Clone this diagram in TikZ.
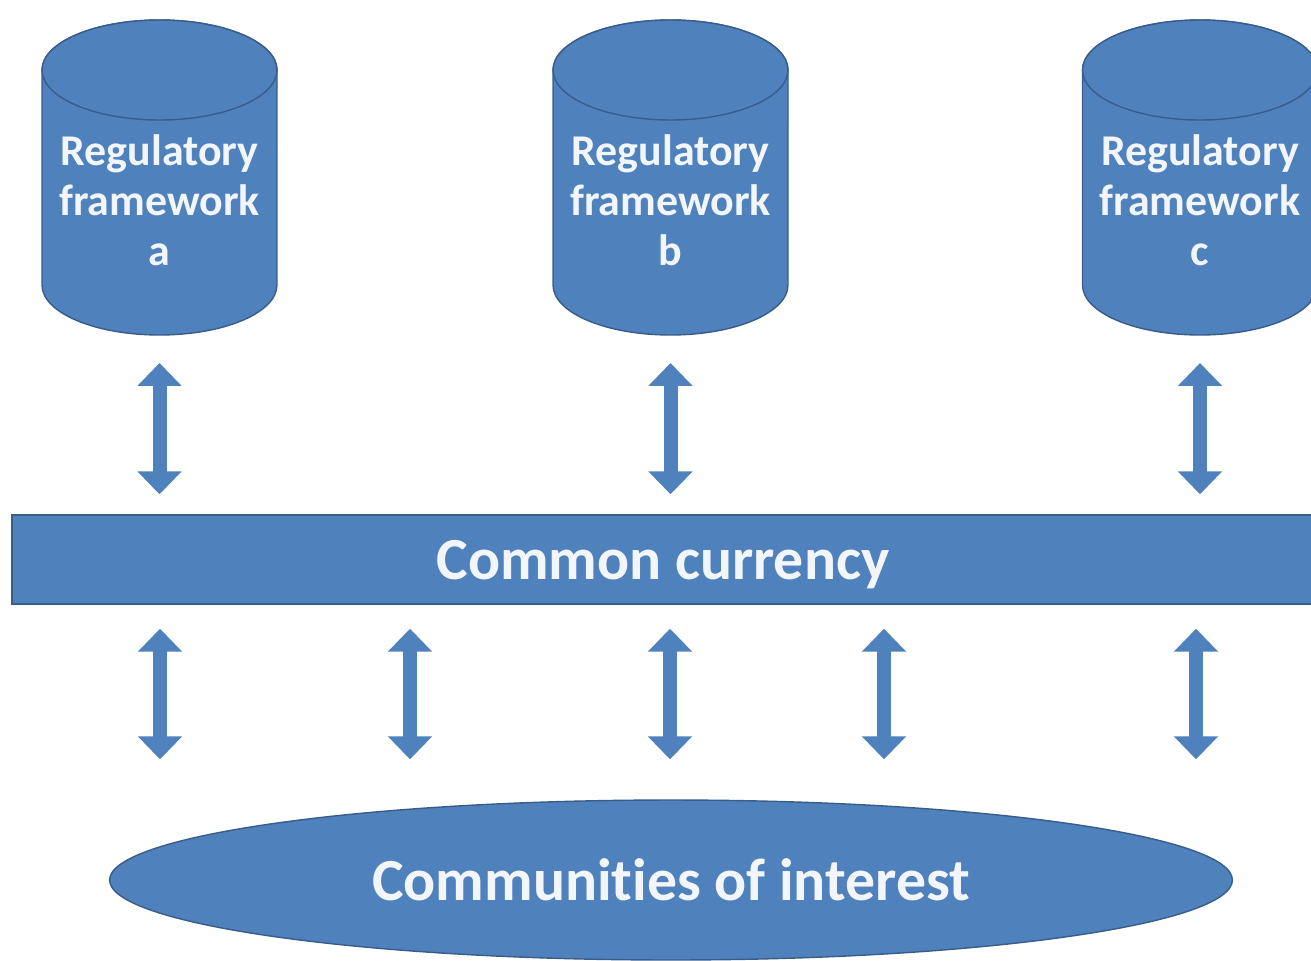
\documentclass[tikz,border=0pt]{standalone}
\usepackage{fontspec}
\setmainfont{Carlito}[Ligatures=NoCommon]
\usepackage{tikz}
\usetikzlibrary{arrows.meta,shapes.geometric}

\definecolor{boxblue}{RGB}{79,129,189}
\definecolor{edgeblue}{RGB}{56,93,138}
\definecolor{txtwhite}{RGB}{242,246,250}

% one storage cylinder: name, centre x, letter
\newcommand{\regcyl}[3]{%
	\filldraw[shapebox] (#2-117.5,70) -- (#2-117.5,285) arc[start angle=180,end angle=360,x radius=2.35cm,y radius=1cm] -- (#2+117.5,70) arc[start angle=0,end angle=180,x radius=2.35cm,y radius=1cm] -- cycle;
	\draw[shapebox] (#2,70) ellipse[x radius=2.35cm,y radius=1cm];
	\node[cyltext] (#1) at (#2,200) {Regulatory\\framework\\#3};
	\coordinate (#1-b) at (#2,335);
}

\begin{document}
\begin{tikzpicture}[x=0.02cm,y=-0.02cm,
		shapebox/.style={fill=boxblue,draw=edgeblue,line width=0.8pt},
		cyltext/.style={align=center,text=txtwhite,font=\bfseries\fontsize{25}{28.5}\selectfont},
		bigtext/.style={text=txtwhite,text depth=0pt,font=\bfseries\fontsize{34}{40}\selectfont},
		updown/.style={draw=boxblue,line width=0.28cm,{Triangle[width=0.86cm,length=0.46cm]}-{Triangle[width=0.86cm,length=0.46cm]}}]
		\useasboundingbox (0,0) rectangle (1311,960);
		\fill[white] (0,0) rectangle (1311,960);
		\clip (0,0) rectangle (1311,960);

		\regcyl{ra}{159.5}{a}
		\regcyl{rb}{670.5}{b}
		\regcyl{rc}{1200}{c}

		\node[shapebox,bigtext,rectangle,minimum width=26.04cm,minimum height=1.78cm] (bar) at (663,559.5) {Common currency};
		\node[shapebox,bigtext,ellipse,inner sep=0pt,minimum width=22.46cm,minimum height=3.2cm] (comm) at (671,880) {Communities of interest};

		\foreach \c in {ra,rb,rc}
			\draw[updown,shorten <=0.56cm,shorten >=0.4cm] (\c-b) -- (\c-b |- bar.north);
		\foreach \x in {160,410,670,884,1196}
			\draw[updown,shorten <=0.48cm,shorten >=0.8cm] (bar.south -| \x,0) -- (comm.north -| \x,0);
	\end{tikzpicture}
\end{document}
